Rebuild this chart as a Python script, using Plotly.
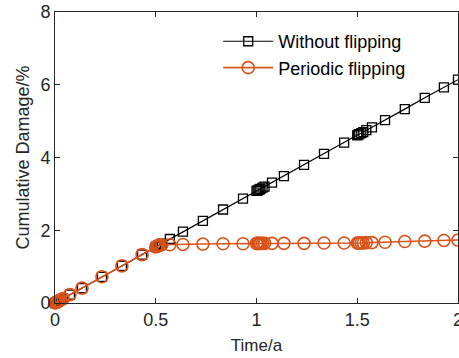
import plotly.graph_objects as go

time_a = [0, 0.005, 0.01, 0.015, 0.02, 0.03, 0.04, 0.074, 0.134, 0.233, 0.332, 0.432,
          0.5, 0.505, 0.51, 0.515, 0.52, 0.53, 0.57, 0.635, 0.734, 0.834, 0.933,
          1.0, 1.005, 1.01, 1.015, 1.02, 1.03, 1.04, 1.077, 1.136, 1.236, 1.335, 1.435,
          1.5, 1.505, 1.51, 1.52, 1.53, 1.545, 1.573, 1.638, 1.736, 1.835, 1.93, 2.0]

without_flipping = [0, 0.015, 0.03, 0.046, 0.06, 0.09, 0.12, 0.23, 0.41, 0.72, 1.02, 1.33,
                    1.54, 1.55, 1.57, 1.58, 1.6, 1.63, 1.76, 1.96, 2.26, 2.57, 2.87,
                    3.08, 3.09, 3.11, 3.12, 3.14, 3.17, 3.2, 3.31, 3.49, 3.8, 4.1, 4.41,
                    4.61, 4.63, 4.64, 4.67, 4.7, 4.75, 4.83, 5.03, 5.33, 5.64, 5.93, 6.14]

periodic_flipping = [0, 0.015, 0.03, 0.046, 0.06, 0.09, 0.12, 0.23, 0.41, 0.72, 1.02, 1.33,
                     1.54, 1.56, 1.57, 1.58, 1.59, 1.6, 1.6, 1.61, 1.62, 1.63, 1.63,
                     1.64, 1.64, 1.64, 1.64, 1.64, 1.64, 1.64, 1.64, 1.64, 1.64, 1.65, 1.65,
                     1.65, 1.65, 1.65, 1.65, 1.65, 1.66, 1.66, 1.67, 1.69, 1.70, 1.72, 1.73]

x_ticks = [0, 0.5, 1, 1.5, 2]
x_tick_labels = ["0", "0.5", "1", "1.5", "2"]
y_ticks = [0, 2, 4, 6, 8]
y_tick_labels = ["0", "2", "4", "6", "8"]

FONT = "Liberation Sans, Arial, sans-serif"
AX = "#262626"
ORANGE = "#D95319"

fig = go.Figure()
fig.add_trace(go.Scatter(
    x=time_a, y=without_flipping, mode="lines+markers", name="Without flipping",
    line=dict(color="black", width=1.2),
    marker=dict(symbol="square-open", size=9, color="black", line=dict(width=1.3)),
    cliponaxis=False,
))
fig.add_trace(go.Scatter(
    x=time_a, y=periodic_flipping, mode="lines+markers", name="Periodic flipping",
    line=dict(color=ORANGE, width=1.6),
    marker=dict(symbol="circle-open", size=12, color=ORANGE, line=dict(width=1.6)),
    cliponaxis=False,
))

axis_common = dict(
    showline=True, linecolor=AX, linewidth=1, mirror="ticks",
    ticks="inside", ticklen=5, tickcolor=AX, tickwidth=1,
    showgrid=False, zeroline=False, automargin=False,
    ticklabeloverflow="allow",
    tickfont=dict(family=FONT, size=18, color=AX),
)

fig.update_layout(
    width=459, height=358,
    margin=dict(l=55, r=1, t=12, b=55),
    paper_bgcolor="white", plot_bgcolor="white",
    font=dict(family=FONT, size=18, color=AX),
    xaxis=dict(range=[0, 2], tickvals=x_ticks, ticktext=x_tick_labels,
               title=dict(text="Time/a", font=dict(family=FONT, size=17, color=AX), standoff=10),
               **axis_common),
    yaxis=dict(range=[0, 8], tickvals=y_ticks, ticktext=y_tick_labels,
               title=dict(text="Cumulative Damage/%", font=dict(family=FONT, size=18, color=AX), standoff=6),
               **axis_common),
    legend=dict(x=0.405, y=0.962, xanchor="left", yanchor="top",
                bgcolor="rgba(0,0,0,0)", borderwidth=0,
                font=dict(family=FONT, size=18, color="black"),
                itemwidth=50, tracegroupgap=0),
    showlegend=True,
)

fig.write_html(
    "out.html",
    config={"displayModeBar": False},
    post_script="document.body.style.margin='0';document.body.style.overflow='hidden';",
)
